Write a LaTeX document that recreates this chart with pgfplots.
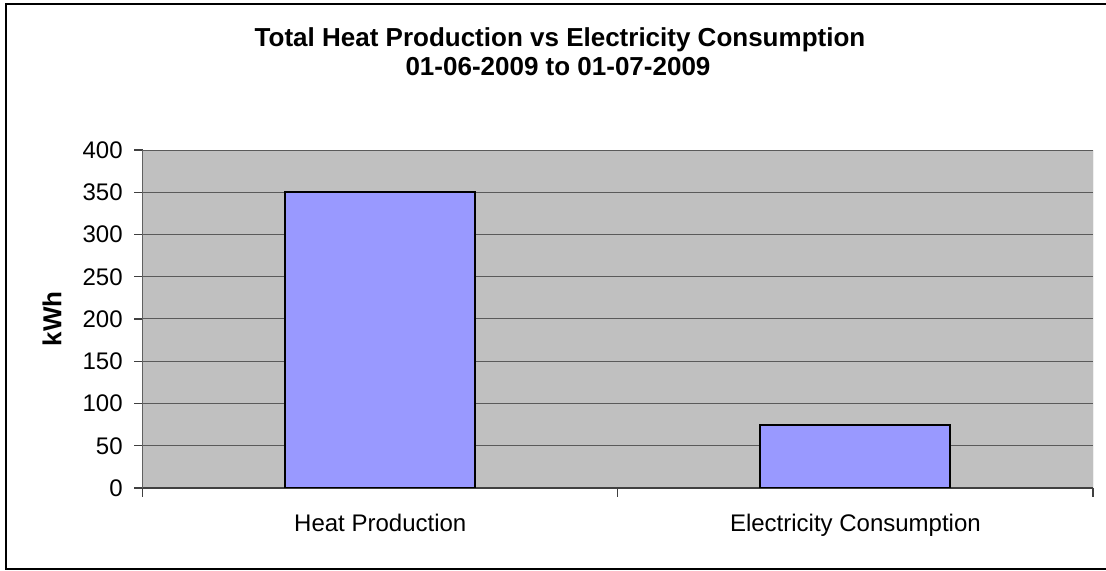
\documentclass[border=0pt]{standalone}
\usepackage{pgfplots}
\pgfplotsset{compat=1.18}
\usepackage{fontspec}
\setmainfont{Liberation Sans}
\definecolor{barblue}{HTML}{9999FF}
\definecolor{plotbg}{HTML}{C0C0C0}
\definecolor{gridgray}{HTML}{5A5A5A}
\definecolor{axisdark}{HTML}{404040}
\definecolor{axisgray}{HTML}{606060}
\begin{document}
\begin{tikzpicture}
\useasboundingbox (0,0) rectangle (553pt,285.5pt);
\draw[black, line width=1pt] (560pt,283.65pt) -- (3pt,283.65pt) -- (3pt,0.85pt) -- (560pt,0.85pt);
\node[anchor=base, inner sep=0pt, font=\fontsize{13}{15}\selectfont\bfseries] at (280pt,262.15pt) {Total Heat Production vs Electricity Consumption};
\node[anchor=base, inner sep=0pt, font=\fontsize{13}{15}\selectfont\bfseries] at (279pt,247.5pt) {01-06-2009 to 01-07-2009};
\begin{axis}[
  at={(71.35pt,41.5pt)}, anchor=south west,
  scale only axis, width=475.15pt, height=169pt,
  xmin=-0.5, xmax=1.5, ymin=0, ymax=400,
  ybar, bar width=95pt,
  ytick={0,50,...,400},
  xtick={-0.5,0.5,1.5}, xticklabels={},
  extra x ticks={0,1},
  extra x tick labels={Heat Production, Electricity Consumption},
  extra x tick style={major tick length=0pt, xticklabel style={anchor=base, yshift=-22pt}},
  axis background/.style={fill=plotbg},
  ymajorgrids, grid style={draw=gridgray, line width=0.5pt},
  axis x line*=bottom, axis y line*=left,
  axis line style={-},
  x axis line style={draw=axisdark, line width=1pt},
  y axis line style={draw=axisgray, line width=0.75pt},
  tick align=outside, major tick length=4.3pt,
  tick style={draw=axisdark, line width=0.6pt},
  tick label style={font=\fontsize{12}{14}\selectfont},
  yticklabel style={xshift=-2.2pt},
  /pgf/number format/assume math mode=true,
  ylabel={kWh},
  every axis y label/.style={at={(axis description cs:-0.0954,0.5)}, rotate=90, anchor=center, font=\fontsize{13}{15}\selectfont\bfseries},
]
\addplot[fill=barblue, draw=black, line width=1pt] coordinates {(0,350) (1,74)};
\draw[draw=gray, line width=0.5pt] (rel axis cs:1,0) -- (rel axis cs:1,1);
\end{axis}
\end{tikzpicture}
\end{document}
